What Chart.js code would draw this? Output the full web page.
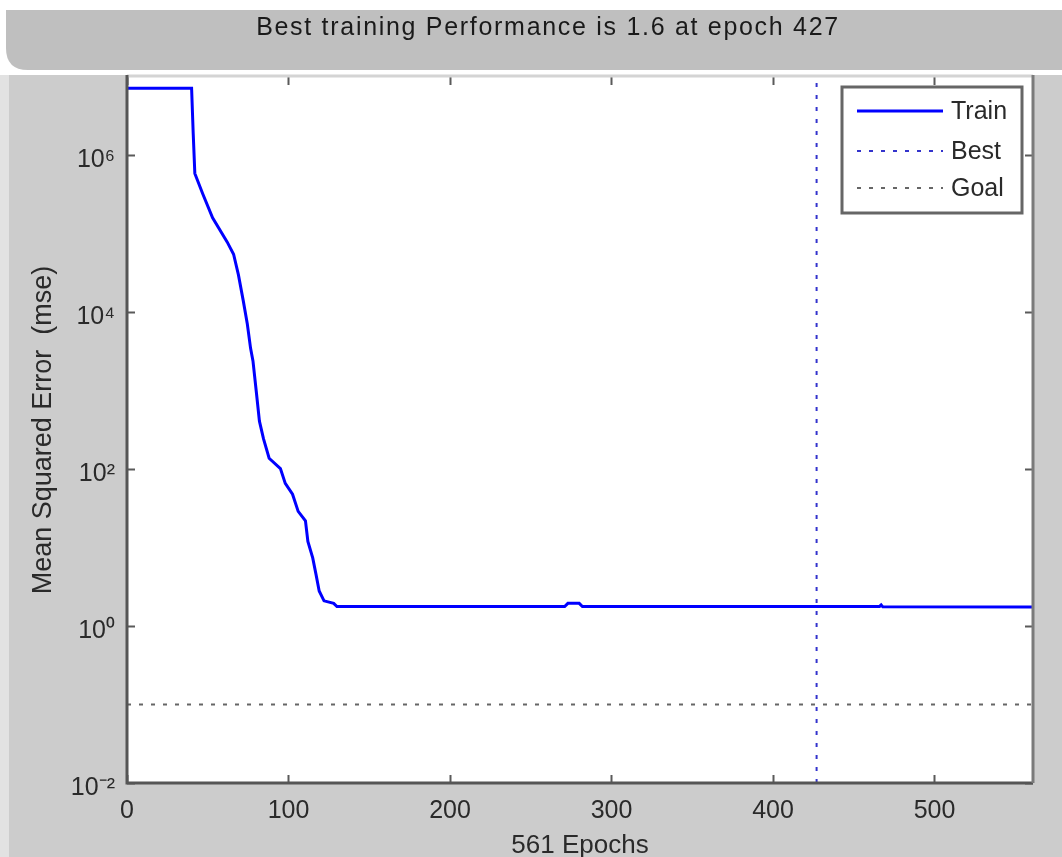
<!DOCTYPE html>
<html>
<head>
<meta charset="utf-8">
<script src="https://cdn.jsdelivr.net/npm/chart.js@4"></script>
<style>
  html, body { margin: 0; padding: 0; background: #ffffff; }
  #wrap { width: 1062px; height: 857px; }
</style>
</head>
<body>
<div id="wrap"><canvas id="perfChart" width="1062" height="857"></canvas></div>
<script>
// Training record
const trainEpochs = [0, 40, 41, 42, 47, 53, 62, 66, 69, 72, 74.5, 76.5, 78, 80, 82, 84.5, 88, 95, 98, 102.5, 106, 110.5, 112, 115, 117, 119, 122, 128, 130, 271, 273, 280, 282, 466, 467, 468, 561];
const trainMse = [7.2e6, 7.2e6, 1.9e6, 5.9e5, 3.2e5, 1.6e5, 7.9e4, 5.5e4, 3.0e4, 1.4e4, 7.1e3, 3.5e3, 2.4e3, 1.0e3, 410, 245, 138, 102, 66, 48, 29, 22, 12, 7.4, 4.6, 2.8, 2.1, 1.95, 1.78, 1.78, 1.95, 1.95, 1.78, 1.78, 1.86, 1.76, 1.75];
const bestEpochs = [427, 427];
const bestMse = [0.01, 1e7];
const goalEpochs = [0, 561];
const goalMse = [0.1, 0.1];

const xTicks = [0, 100, 200, 300, 400, 500];
const yTicks = [1e-2, 1e0, 1e2, 1e4, 1e6];
const titleText = 'Best training Performance is 1.6 at epoch 427';

const toPoints = (xs, ys) => xs.map((x, i) => ({ x: x, y: ys[i] }));
const supers = { '-': '\u207B', '0': '\u2070', '1': '\u00B9', '2': '\u00B2', '3': '\u00B3', '4': '\u2074', '5': '\u2075', '6': '\u2076', '7': '\u2077', '8': '\u2078', '9': '\u2079' };
const powLabel = (v) => '10' + String(Math.round(Math.log10(v))).split('').map(c => supers[c]).join('');

const FONT = "'Liberation Sans', Arial, sans-serif";

// figure backgrounds and title bar, MATLAB-like
const figureBg = {
    id: 'figureBg',
    beforeDraw(chart) {
        const ctx = chart.ctx;
        const a = chart.chartArea;
        ctx.save();
        ctx.fillStyle = '#ffffff';
        ctx.fillRect(0, 0, chart.width, chart.height);
        ctx.fillStyle = '#cccccc';
        ctx.fillRect(0, 75, chart.width, chart.height - 75);
        ctx.fillStyle = '#e2e2e2';
        ctx.fillRect(0, 75, 9, chart.height - 75);
        // title bar with rounded lower-left corner
        ctx.fillStyle = '#bfbfbf';
        ctx.beginPath();
        ctx.moveTo(6, 10);
        ctx.lineTo(chart.width, 10);
        ctx.lineTo(chart.width, 70);
        ctx.lineTo(28, 70);
        ctx.quadraticCurveTo(6, 70, 6, 48);
        ctx.closePath();
        ctx.fill();
        ctx.fillStyle = '#1a1a1a';
        ctx.font = '25px ' + FONT;
        ctx.letterSpacing = '1.7px';
        ctx.textAlign = 'center';
        ctx.textBaseline = 'middle';
        ctx.fillText(titleText, 548, 28);
        ctx.letterSpacing = '0px';
        ctx.fillStyle = '#ffffff';
        ctx.fillRect(a.left, a.top, a.right - a.left, a.bottom - a.top);
        ctx.restore();
    }
};

// box and inward tick marks
const axesBox = {
    id: 'axesBox',
    afterDatasetsDraw(chart) {
        const ctx = chart.ctx;
        const a = chart.chartArea;
        const xs = chart.scales.x, ys = chart.scales.y;
        const len = 8;
        ctx.save();
        ctx.strokeStyle = '#5a5a5a';
        ctx.lineWidth = 2;
        ctx.beginPath();
        xTicks.forEach(t => {
            const px = Math.round(xs.getPixelForValue(t)) + 0.5;
            ctx.moveTo(px, a.bottom); ctx.lineTo(px, a.bottom - len);
            ctx.moveTo(px, a.top); ctx.lineTo(px, a.top + len);
        });
        yTicks.forEach(t => {
            const py = Math.round(ys.getPixelForValue(t)) + 0.5;
            ctx.moveTo(a.left, py); ctx.lineTo(a.left + len, py);
            ctx.moveTo(a.right, py); ctx.lineTo(a.right - len, py);
        });
        ctx.stroke();
        // top edge is light
        ctx.strokeStyle = '#d4d4d4';
        ctx.lineWidth = 3;
        ctx.beginPath();
        ctx.moveTo(a.left, a.top - 1); ctx.lineTo(a.right, a.top - 1);
        ctx.stroke();
        ctx.strokeStyle = '#555555';
        ctx.lineWidth = 3;
        ctx.beginPath();
        ctx.moveTo(a.left, a.top - 2); ctx.lineTo(a.left, a.bottom); ctx.lineTo(a.right, a.bottom);
        ctx.stroke();
        ctx.strokeStyle = '#7a7a7a';
        ctx.beginPath();
        ctx.moveTo(a.right, a.top - 2); ctx.lineTo(a.right, a.bottom);
        ctx.stroke();
        ctx.restore();
    }
};

// legend box inside the axes, top-right
const boxLegend = {
    id: 'boxLegend',
    afterDraw(chart) {
        const ctx = chart.ctx;
        const x0 = 842, y0 = 87, w = 180, h = 126;
        const rowY = [111, 151, 188];
        ctx.save();
        ctx.fillStyle = '#ffffff';
        ctx.fillRect(x0, y0, w, h);
        ctx.strokeStyle = '#666666';
        ctx.lineWidth = 3;
        ctx.strokeRect(x0, y0, w, h);
        chart.data.datasets.forEach((ds, i) => {
            ctx.strokeStyle = ds.borderColor;
            ctx.lineWidth = ds.borderWidth;
            ctx.setLineDash(ds.borderDash || []);
            ctx.beginPath();
            ctx.moveTo(857, rowY[i]);
            ctx.lineTo(943, rowY[i]);
            ctx.stroke();
            ctx.setLineDash([]);
            ctx.fillStyle = '#2a2a2a';
            ctx.font = '25px ' + FONT;
            ctx.textBaseline = 'middle';
            ctx.textAlign = 'left';
            ctx.fillText(ds.label, 951, rowY[i] + 1);
        });
        ctx.restore();
    }
};

document.addEventListener('DOMContentLoaded', function() {
    const ctx = document.getElementById('perfChart').getContext('2d');
    new Chart(ctx, {
        type: 'line',
        data: {
            datasets: [
                {
                    label: 'Train',
                    data: toPoints(trainEpochs, trainMse),
                    borderColor: '#0000ff',
                    borderWidth: 3,
                    pointRadius: 0,
                    tension: 0
                },
                {
                    label: 'Best',
                    data: toPoints(bestEpochs, bestMse),
                    borderColor: '#3333cc',
                    borderWidth: 2,
                    borderDash: [4, 8],
                    pointRadius: 0
                },
                {
                    label: 'Goal',
                    data: toPoints(goalEpochs, goalMse),
                    borderColor: '#666666',
                    borderWidth: 2,
                    borderDash: [4, 8],
                    pointRadius: 0
                }
            ]
        },
        options: {
            responsive: false,
            animation: false,
            layout: { padding: { left: 0, right: 29, top: 77, bottom: 0 } },
            scales: {
                x: {
                    type: 'linear',
                    min: 0,
                    max: 561,
                    afterBuildTicks: (axis) => { axis.ticks = xTicks.map(v => ({ value: v })); },
                    afterFit: (axis) => { axis.height = 74; },
                    grid: { display: false, drawTicks: false },
                    border: { display: false },
                    ticks: { color: '#2a2a2a', padding: 13, maxRotation: 0, font: { family: FONT, size: 25 } },
                    title: { display: true, text: '561 Epochs', color: '#2a2a2a', padding: { top: 0, bottom: -4 }, font: { family: FONT, size: 26 } }
                },
                y: {
                    type: 'logarithmic',
                    min: 0.01,
                    max: 1e7,
                    afterBuildTicks: (axis) => { axis.ticks = yTicks.map(v => ({ value: v })); },
                    afterFit: (axis) => { axis.width = 127; },
                    grid: { display: false, drawTicks: false },
                    border: { display: false },
                    ticks: { color: '#2a2a2a', padding: 12, labelOffset: 5, callback: (v) => powLabel(v), font: { family: FONT, size: 25 } },
                    title: { display: true, text: 'Mean Squared Error  (mse)', color: '#2a2a2a', padding: { top: 27, bottom: 0 }, font: { family: FONT, size: 27 } }
                }
            },
            plugins: {
                legend: { display: false },
                tooltip: { enabled: false },
                title: { display: false }
            }
        },
        plugins: [figureBg, axesBox, boxLegend]
    });
});
</script>
</body>
</html>
